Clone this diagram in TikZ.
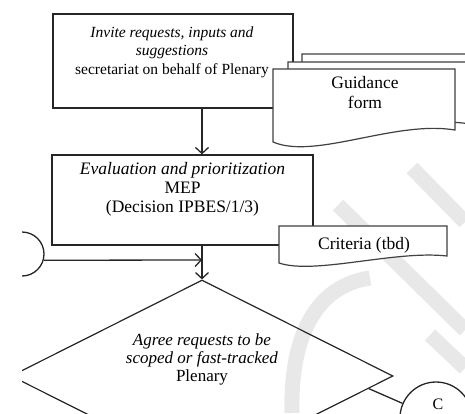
\documentclass[tikz,border=0pt]{standalone}
\usepackage{fontspec}
\setmainfont{Liberation Serif}
\usetikzlibrary{arrows.meta,shapes.geometric,calc}
\tikzset{
  box/.style={draw=black!85,line width=1.3pt,fill=white,inner sep=0pt},
  docline/.style={draw=black!75,line width=1.2pt,fill=white},
  conn/.style={draw=black!85,line width=1.3pt},
  arr/.style={conn,-{Straight Barb[length=6pt,width=13pt,line width=1.3pt]}},
  wm/.style={draw=black!9,line width=15pt,line cap=butt},
  txt/.style={align=center,inner sep=0pt}
}
\begin{document}
\begin{tikzpicture}[x=1pt,y=-1pt]
\useasboundingbox (0,0) rectangle (465,413);
% watermark
\draw[wm] (338,205) -- (465,330);
\draw[wm] (412,168) -- (465,222);
\draw[wm] (292,413) .. controls (290,330) and (320,285) .. (370,278);
\draw[wm] (430,335) -- (465,368);
% boxes
\node[box,minimum width=240pt,minimum height=94pt] (box1) at (173,61) {};
\node[txt,font=\fontsize{15.5}{18.5}\selectfont] (t1) at (172,52)
  {\textit{Invite requests, inputs and}\\\textit{suggestions}\\secretariat on behalf of Plenary};
% guidance form stack
\path[docline] (302,54) -- (485,54) -- (485,116) .. controls (430,106) and (345,140) .. (302,126) -- cycle;
\path[docline] (288,62) -- (470,62) -- (470,124) .. controls (410,114) and (330,148) .. (288,134) -- cycle;
\path[docline] (273,69) -- (455,69) -- (455,130) .. controls (395,120) and (315,160) .. (273,142) -- cycle;
\node[txt,font=\fontsize{17.5}{20}\selectfont] (gf) at (365,93) {Guidance\\form};
% box 2
\node[box,minimum width=261pt,minimum height=90pt] (box2) at (182.5,200) {};
\node[txt,font=\fontsize{17.5}{19}\selectfont] (t2) at (182.5,189)
  {\textit{Evaluation and prioritization}\\MEP\\(Decision IPBES/1/3)};
% criteria
\path[docline] (279,226) -- (447,226) -- (447,256) .. controls (395,250) and (315,275) .. (279,263) -- cycle;
\node[txt,font=\fontsize{17.5}{20}\selectfont] (cr) at (364,245) {Criteria (tbd)};
% diamond
\node[diamond,box,line width=1.2pt,fill=none,minimum width=382pt,minimum height=192pt] (dia) at (202,376) {};
\node[txt,font=\fontsize{17}{18}\selectfont] (t3) at (202,359)
  {\textit{Agree requests to be}\\\textit{scoped or fast-tracked}\\Plenary};
% connectors
\node[circle,conn,minimum size=44pt,inner sep=0pt] (L) at (22,254) {};
\coordinate (j) at (202,260);
\draw[arr] (box1.south -| dia.north) -- (box2.north -| dia.north);
\draw[conn] (box2.south -| dia.north) -- (j);
\draw[arr] (j) -- (dia.north);
\draw[arr] (L.-16) -- (j);
\node[circle,conn,fill=white,minimum size=72pt,inner sep=0pt] (Cc) at (436,418) {};
\node[txt,font=\fontsize{16}{18}\selectfont] (ct) at (438,404) {C};
\coordinate (dC) at ($(dia.east)!0.13!(dia.south)$);
\draw[conn] (dC) -- (Cc);
% crop at left
\fill[white] (-2,-2) rectangle (21.5,415);
\end{tikzpicture}
\end{document}
